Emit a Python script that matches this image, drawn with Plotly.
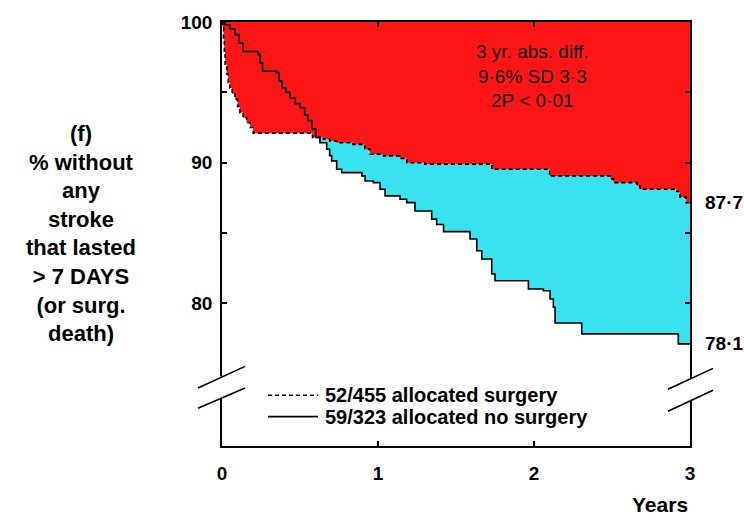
import plotly.graph_objects as go

# ---------------- data ----------------
years_surg = [0, 0.005, 0.01, 0.015, 0.02, 0.03, 0.04, 0.05, 0.065, 0.083, 0.1, 0.115,
              0.135, 0.158, 0.18, 0.2, 0.58, 0.65, 0.69, 0.735, 0.84, 0.915, 0.95,
              1.035, 1.14, 1.185, 1.3, 1.73, 2.1, 2.49, 2.51, 2.66, 2.68, 2.915,
              2.935, 2.975, 3.0]
surv_surg = [100, 99.6, 98.8, 97.9, 97.0, 96.3, 95.7, 95.3, 94.9, 94.5, 94.0, 93.56,
             93.2, 92.85, 92.5, 92.1, 91.8, 91.66, 91.54, 91.42, 91.3, 90.95, 90.6,
             90.48, 90.3, 90.0, 89.9, 89.53, 89.06, 88.85, 88.58, 88.35, 88.11, 87.95,
             87.55, 87.15, 87.15]

years_nosurg = [0, 0.02, 0.05, 0.083, 0.11, 0.135, 0.23, 0.245, 0.26, 0.35, 0.365,
                0.385, 0.41, 0.436, 0.47, 0.5, 0.53, 0.55, 0.575, 0.6, 0.628, 0.671,
                0.69, 0.703, 0.735, 0.767, 0.896, 0.917, 0.97, 1.013, 1.045, 1.141,
                1.184, 1.237, 1.344, 1.376, 1.42, 1.59, 1.633, 1.665, 1.729, 1.75,
                1.964, 2.06, 2.103, 2.124, 2.135, 2.306, 2.925, 3.0]
surv_nosurg = [100, 99.8, 99.5, 99.1, 98.5, 97.9, 97.7, 97.1, 96.5, 96.4, 95.8,
               95.3, 95.0, 94.6, 94.2, 93.9, 93.4, 93.0, 92.4, 91.8, 91.42, 90.95,
               90.5, 90.13, 89.53, 89.29, 89.06, 88.70, 88.58, 88.11, 87.64, 87.40,
               87.16, 86.57, 85.99, 85.6, 85.1, 84.57, 83.74, 83.15, 82.09, 81.61,
               81.02, 80.9, 80.31, 79.72, 78.6, 77.83, 77.12, 77.12]

ceiling_years = [0, 3]
ceiling_surv = [100, 100]

x_tickvals = [0, 1, 2, 3]
y_tickvals = [80, 85, 90, 95, 100]
y_ticktext = ["80", "", "90", "", "100"]

label_surg = "52/455 allocated surgery"
label_nosurg = "59/323 allocated no surgery"
end_label_surg = "87·7"
end_label_nosurg = "78·1"
stats_text = "3 yr. abs. diff.<br>9·6% SD 3·3<br>2P &lt; 0·01"
y_title = "(f)<br>% without<br>any<br>stroke<br>that lasted<br>&gt; 7 DAYS<br>(or surg.<br>death)"
x_title = "Years"

# ---------------- style ----------------
FONT = "Liberation Sans, Arial, Helvetica, sans-serif"
RED = "#fd1616"
CYAN = "#38e2ee"
W, H = 744, 522
L, R, T, B = 222, 54, 20, 76
PW, PH = W - L - R, H - T - B


def px(xp):
    return (xp - L) / PW


def py(yp):
    return (H - B - yp) / PH


fig = go.Figure()
# cyan band: between surgery and no-surgery curves
fig.add_trace(go.Scatter(x=years_surg, y=surv_surg, mode="lines",
                         line=dict(width=0, shape="hv"), hoverinfo="skip", showlegend=False))
fig.add_trace(go.Scatter(x=years_nosurg, y=surv_nosurg, mode="lines",
                         line=dict(width=0, shape="hv"), fill="tonexty", fillcolor=CYAN,
                         hoverinfo="skip", showlegend=False))
# red band: between 100% and surgery curve
fig.add_trace(go.Scatter(x=ceiling_years, y=ceiling_surv, mode="lines",
                         line=dict(width=0), hoverinfo="skip", showlegend=False))
fig.add_trace(go.Scatter(x=years_surg, y=surv_surg, mode="lines",
                         line=dict(width=0, shape="hv"), fill="tonexty", fillcolor=RED,
                         hoverinfo="skip", showlegend=False))
# curves
fig.add_trace(go.Scatter(x=years_nosurg, y=surv_nosurg, mode="lines", name=label_nosurg,
                         line=dict(color="black", width=1.6, shape="hv"), showlegend=False))
fig.add_trace(go.Scatter(x=years_surg, y=surv_surg, mode="lines", name=label_surg,
                         line=dict(color="black", width=1.6, shape="hv", dash="4px,3px"),
                         showlegend=False))

bold = dict(family=FONT, color="black", weight=700)

fig.update_xaxes(range=[0, 3], tickvals=x_tickvals, ticks="inside", ticklen=5, tickwidth=1.5,
                 tickcolor="black", showline=True, linewidth=1.6, linecolor="black",
                 mirror="ticks", showgrid=False, zeroline=False,
                 tickfont=dict(size=19, **bold), ticklabelstandoff=9)
fig.update_yaxes(range=[69.86, 100], tickvals=y_tickvals, ticktext=y_ticktext,
                 ticks="inside", ticklen=5, tickwidth=1.5, tickcolor="black",
                 showline=True, linewidth=1.6, linecolor="black", mirror="ticks",
                 showgrid=False, zeroline=False,
                 tickfont=dict(size=19, **bold), ticklabelstandoff=4)

shapes = []
# axis breaks (white gaps + diagonal marks)
shapes.append(dict(type="rect", xref="paper", yref="paper", x0=px(216), x1=px(228),
                   y0=py(398), y1=py(376), fillcolor="white", line=dict(width=0), layer="above"))
shapes.append(dict(type="rect", xref="paper", yref="paper", x0=px(684), x1=px(696),
                   y0=py(400), y1=py(378), fillcolor="white", line=dict(width=0), layer="above"))
for (x0, y0, x1, y1) in [(198, 387.7, 245, 366), (198, 408, 245, 387.7),
                         (668, 389, 713, 368), (668, 411, 713, 390)]:
    shapes.append(dict(type="line", xref="paper", yref="paper", x0=px(x0), y0=py(y0),
                       x1=px(x1), y1=py(y1), line=dict(color="black", width=1.6),
                       layer="above"))
# legend samples
shapes.append(dict(type="line", xref="paper", yref="paper", x0=px(268), x1=px(318),
                   y0=py(395), y1=py(395), line=dict(color="black", width=1.4, dash="4px,3px")))
shapes.append(dict(type="line", xref="paper", yref="paper", x0=px(268), x1=px(318),
                   y0=py(416.5), y1=py(416.5), line=dict(color="black", width=1.6)))

annotations = [
    dict(text=y_title, xref="paper", yref="paper", x=px(81), y=py(232), xanchor="center",
         yanchor="middle", align="center", showarrow=False, font=dict(size=22, **bold)),
    dict(text=stats_text, xref="x", yref="y", x=1.99, y=96.16, xanchor="center",
         yanchor="middle", align="center", showarrow=False,
         font=dict(size=19, family=FONT, color="#111111")),
    dict(text=end_label_surg, xref="paper", yref="y", x=px(703), y=surv_surg[-1],
         xanchor="left", yanchor="middle", showarrow=False, font=dict(size=19, **bold)),
    dict(text=end_label_nosurg, xref="paper", yref="y", x=px(703), y=surv_nosurg[-1],
         xanchor="left", yanchor="middle", showarrow=False, font=dict(size=19, **bold)),
    dict(text=label_surg, xref="paper", yref="paper", x=px(323), y=py(395), xanchor="left",
         yanchor="middle", showarrow=False, font=dict(size=20, **bold)),
    dict(text=label_nosurg, xref="paper", yref="paper", x=px(323), y=py(416.5),
         xanchor="left", yanchor="middle", showarrow=False, font=dict(size=20, **bold)),
    dict(text=x_title, xref="paper", yref="paper", x=1, y=py(505), xanchor="right",
         yanchor="middle", showarrow=False, font=dict(size=21, **bold)),
]

fig.update_layout(width=W, height=H, margin=dict(l=L, r=R, t=T, b=B),
                  paper_bgcolor="white", plot_bgcolor="white",
                  shapes=shapes, annotations=annotations, showlegend=False)

fig.write_html("out.html")
